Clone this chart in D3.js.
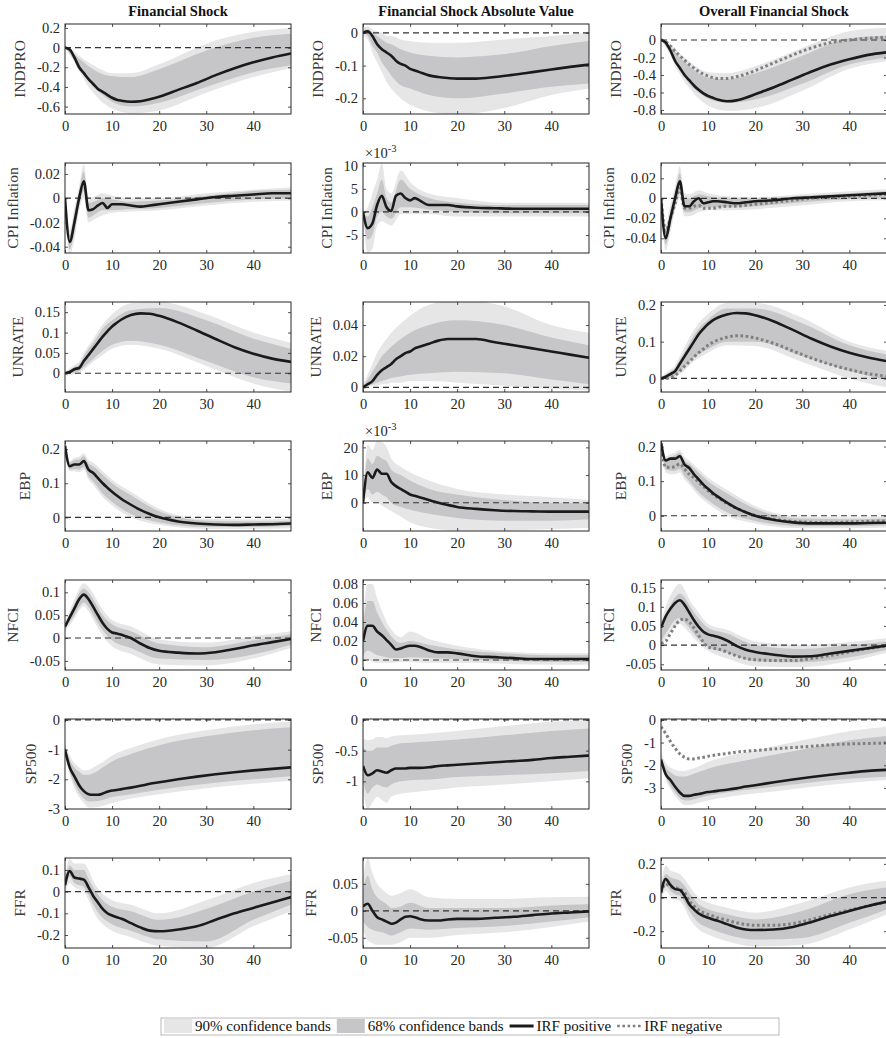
<!DOCTYPE html>
<html>
<head>
<meta charset="utf-8">
<script src="https://cdn.jsdelivr.net/npm/d3@7"></script>
<style>
  body { margin: 0; background: #fff; }
  svg { display: block; font-family: "Liberation Serif", "Times New Roman", serif; }
</style>
</head>
<body>
<svg id="chart" width="886" height="1038"></svg>
<script>
// horizons for the IRF lines and for the confidence bands
const H  = [0,1,2,3,4,5,6,7,8,9,10,11,12,14,16,18,20,24,28,32,36,40,44,48];
const HB = [0,1,2,3,4,5,6,8,10,14,20,30,40,48];

const columns = ["Financial Shock", "Financial Shock Absolute Value", "Overall Financial Shock"];
const variables = ["INDPRO", "CPI Inflation", "UNRATE", "EBP", "NFCI", "SP500", "FFR"];

// ---- INDPRO
const indpro_fin_irf = [0,-0.02,-0.1,-0.2,-0.26,-0.32,-0.37,-0.42,-0.45,-0.48,-0.51,-0.53,-0.54,-0.55,-0.545,-0.525,-0.5,-0.43,-0.36,-0.28,-0.21,-0.15,-0.1,-0.06];
const indpro_fin_lo68 = [0,-0.06,-0.13,-0.2,-0.28,-0.34,-0.4,-0.48,-0.55,-0.6,-0.56,-0.4,-0.25,-0.18];
const indpro_fin_hi68 = [0,-0.02,-0.07,-0.11,-0.15,-0.19,-0.22,-0.27,-0.29,-0.3,-0.22,-0.03,0.1,0.14];
const indpro_fin_lo90 = [0,-0.07,-0.15,-0.24,-0.32,-0.4,-0.46,-0.56,-0.62,-0.67,-0.64,-0.46,-0.3,-0.21];
const indpro_fin_hi90 = [0.01,0,-0.04,-0.08,-0.12,-0.15,-0.18,-0.23,-0.26,-0.26,-0.17,0.04,0.16,0.2];

const indpro_abs_irf = [0,0.005,-0.01,-0.035,-0.05,-0.06,-0.07,-0.085,-0.095,-0.1,-0.11,-0.115,-0.12,-0.13,-0.135,-0.138,-0.14,-0.14,-0.135,-0.128,-0.12,-0.112,-0.104,-0.097];
const indpro_abs_lo68 = [0,-0.01,-0.04,-0.06,-0.09,-0.11,-0.13,-0.16,-0.17,-0.19,-0.2,-0.185,-0.165,-0.155];
const indpro_abs_hi68 = [0.01,0.01,0,-0.01,-0.02,-0.03,-0.035,-0.05,-0.06,-0.07,-0.075,-0.065,-0.04,-0.025];
const indpro_abs_lo90 = [-0.01,-0.02,-0.06,-0.09,-0.12,-0.15,-0.17,-0.2,-0.22,-0.24,-0.25,-0.23,-0.19,-0.17];
const indpro_abs_hi90 = [0.015,0.02,0.01,0.005,0,-0.01,-0.01,-0.02,-0.025,-0.03,-0.03,-0.02,-0.01,0];

const indpro_all_irf = [0,-0.03,-0.12,-0.24,-0.32,-0.4,-0.46,-0.52,-0.57,-0.61,-0.64,-0.66,-0.68,-0.7,-0.69,-0.66,-0.62,-0.54,-0.45,-0.36,-0.28,-0.22,-0.17,-0.14];
const indpro_all_neg = [0,-0.02,-0.07,-0.13,-0.18,-0.23,-0.28,-0.32,-0.36,-0.39,-0.41,-0.43,-0.44,-0.44,-0.42,-0.39,-0.35,-0.26,-0.17,-0.09,-0.03,0,0.02,0.03];
const indpro_all_lo68 = [0,-0.07,-0.15,-0.26,-0.34,-0.42,-0.5,-0.6,-0.67,-0.72,-0.68,-0.5,-0.28,-0.2];
const indpro_all_hi68 = [0,-0.03,-0.08,-0.13,-0.2,-0.25,-0.3,-0.38,-0.43,-0.45,-0.38,-0.18,0.02,0.05];
const indpro_all_lo90 = [0,-0.08,-0.17,-0.3,-0.39,-0.48,-0.55,-0.67,-0.75,-0.81,-0.78,-0.58,-0.33,-0.24];
const indpro_all_hi90 = [0.01,0,-0.05,-0.09,-0.15,-0.2,-0.25,-0.32,-0.37,-0.38,-0.3,-0.09,0.1,0.14];

// ---- CPI Inflation
const cpi_fin_irf = [0,-0.036,-0.02,0,0.014,-0.01,-0.009,-0.006,-0.004,-0.008,-0.005,-0.005,-0.005,-0.006,-0.007,-0.006,-0.005,-0.003,-0.001,0.001,0.002,0.003,0.004,0.004];
const cpi_fin_lo68 = [0,-0.042,-0.028,-0.006,0.006,-0.016,-0.014,-0.01,-0.01,-0.009,-0.008,-0.004,-0.001,0];
const cpi_fin_hi68 = [0,-0.03,-0.012,0.006,0.022,-0.004,-0.003,0,-0.001,-0.003,-0.002,0.002,0.006,0.007];
const cpi_fin_lo90 = [0,-0.046,-0.034,-0.01,0,-0.02,-0.018,-0.014,-0.012,-0.011,-0.01,-0.006,-0.003,-0.002];
const cpi_fin_hi90 = [0,-0.026,-0.008,0.01,0.028,0,0.001,0.004,0.002,0,0,0.004,0.007,0.009];

// absolute value panels with a x10^-3 exponent are kept in units of 1e-3
const cpi_abs_irf = [0,-3.5,-2.5,1.5,3.5,1,0.2,3.5,4,3,2.5,3,2.5,1.5,1.5,1.5,1.2,0.9,0.8,0.7,0.7,0.7,0.7,0.7];
const cpi_abs_lo68 = [0,-6,-5,-1,0,-1,-1.5,1,1,0.5,0,-0.3,-0.3,-0.3];
const cpi_abs_hi68 = [0,-1,1,4,7,3,2,7,5,3,2,1.5,1.5,1.5];
const cpi_abs_lo90 = [0,-8.9,-8,-3,-2,-2.5,-3,-0.5,-0.5,-0.5,-1,-1,-1,-1];
const cpi_abs_hi90 = [0,1,4,7,10.6,5,4,9,6.5,4,3,2,2,2];

const cpi_all_irf = [0,-0.04,-0.02,0,0.017,-0.008,-0.008,-0.003,0,-0.005,-0.004,-0.003,-0.003,-0.004,-0.005,-0.004,-0.003,-0.002,0,0.001,0.002,0.003,0.004,0.005];
const cpi_all_neg = [0,-0.033,-0.02,-0.005,0.01,-0.01,-0.01,-0.008,-0.007,-0.01,-0.01,-0.01,-0.009,-0.008,-0.008,-0.007,-0.006,-0.004,-0.002,0,0.001,0.002,0.003,0.004];
const cpi_all_lo68 = [0,-0.046,-0.028,-0.008,0.006,-0.014,-0.014,-0.01,-0.009,-0.009,-0.008,-0.004,-0.001,0];
const cpi_all_hi68 = [0,-0.032,-0.012,0.006,0.025,0,0,0.004,0.002,0,0,0.002,0.005,0.007];
const cpi_all_lo90 = [0,-0.052,-0.034,-0.012,0,-0.018,-0.018,-0.014,-0.012,-0.012,-0.011,-0.007,-0.003,-0.002];
const cpi_all_hi90 = [0,-0.026,-0.006,0.012,0.032,0.005,0.004,0.008,0.005,0.002,0.001,0.004,0.007,0.009];

// ---- UNRATE
const unrate_fin_irf = [0,0.003,0.01,0.013,0.03,0.045,0.06,0.075,0.09,0.103,0.115,0.124,0.132,0.143,0.147,0.146,0.141,0.125,0.105,0.084,0.064,0.048,0.036,0.028];
const unrate_fin_lo68 = [0,0,0.002,0.005,0.015,0.025,0.035,0.055,0.07,0.08,0.07,0.03,-0.01,-0.025];
const unrate_fin_hi68 = [0.002,0.008,0.015,0.022,0.042,0.06,0.075,0.11,0.13,0.155,0.16,0.13,0.085,0.06];
const unrate_fin_lo90 = [-0.002,-0.004,-0.002,0,0.01,0.018,0.028,0.045,0.06,0.07,0.06,0.018,-0.025,-0.045];
const unrate_fin_hi90 = [0.004,0.012,0.02,0.028,0.05,0.068,0.085,0.12,0.145,0.172,0.175,0.145,0.1,0.075];

const unrate_abs_irf = [0,0.002,0.004,0.008,0.011,0.013,0.015,0.018,0.02,0.022,0.023,0.025,0.026,0.028,0.03,0.031,0.031,0.031,0.029,0.027,0.025,0.023,0.021,0.019];
const unrate_abs_lo68 = [0,0.001,0.002,0.003,0.004,0.005,0.006,0.007,0.008,0.009,0.01,0.009,0.005,0.002];
const unrate_abs_hi68 = [0.001,0.005,0.01,0.015,0.02,0.023,0.026,0.031,0.035,0.04,0.043,0.04,0.032,0.027];
const unrate_abs_lo90 = [-0.001,0,0.001,0.001,0.002,0.002,0.003,0.003,0.004,0.004,0.003,0.001,-0.001,-0.002];
const unrate_abs_hi90 = [0.002,0.008,0.015,0.022,0.027,0.031,0.035,0.041,0.046,0.053,0.056,0.052,0.04,0.035];

const unrate_all_irf = [0,0.005,0.012,0.02,0.04,0.06,0.08,0.1,0.12,0.135,0.148,0.158,0.165,0.174,0.178,0.177,0.172,0.155,0.132,0.108,0.087,0.07,0.057,0.047];
const unrate_all_neg = [0,0,0.003,0.008,0.02,0.033,0.045,0.058,0.07,0.08,0.09,0.098,0.104,0.112,0.116,0.115,0.11,0.095,0.075,0.055,0.038,0.024,0.013,0.006];
const unrate_all_lo68 = [0,0,0.003,0.008,0.02,0.03,0.045,0.065,0.08,0.1,0.1,0.06,0.02,-0.005];
const unrate_all_hi68 = [0.002,0.01,0.018,0.028,0.05,0.072,0.095,0.135,0.16,0.19,0.19,0.15,0.09,0.065];
const unrate_all_lo90 = [-0.002,-0.004,-0.002,0.002,0.012,0.02,0.035,0.055,0.07,0.09,0.088,0.045,0,-0.025];
const unrate_all_hi90 = [0.004,0.014,0.024,0.035,0.06,0.085,0.11,0.15,0.175,0.205,0.205,0.165,0.1,0.075];

// ---- EBP
const ebp_fin_irf = [0.21,0.15,0.155,0.155,0.165,0.14,0.13,0.115,0.1,0.087,0.075,0.064,0.054,0.037,0.022,0.01,0,-0.012,-0.018,-0.021,-0.022,-0.021,-0.02,-0.018];
const ebp_fin_lo68 = [0.21,0.14,0.142,0.14,0.148,0.12,0.105,0.07,0.045,0.01,-0.015,-0.028,-0.028,-0.025];
const ebp_fin_hi68 = [0.215,0.16,0.168,0.17,0.18,0.158,0.15,0.125,0.1,0.065,0.018,-0.01,-0.012,-0.01];
const ebp_fin_lo90 = [0.205,0.135,0.135,0.132,0.14,0.11,0.095,0.06,0.035,0,-0.022,-0.034,-0.034,-0.032];
const ebp_fin_hi90 = [0.22,0.165,0.175,0.178,0.188,0.168,0.16,0.135,0.11,0.075,0.025,-0.005,-0.006,-0.004];

const ebp_abs_irf = [0,11,9,12,10.5,10.5,7.5,6,5,4,3,2.5,2,1,0,-0.8,-1.5,-2.2,-2.7,-3,-3.1,-3.2,-3.2,-3.2];
const ebp_abs_lo68 = [0,5,3,4,3,2,0,-1.5,-2.5,-4,-5.5,-6.5,-6.5,-6];
const ebp_abs_hi68 = [0,16,14,17,16,15,12,10,8,5,3,1,0,0];
const ebp_abs_lo90 = [0,2,0,0,-1,-2,-3,-5,-7,-9,-10,-10,-9.5,-9];
const ebp_abs_hi90 = [0,21,19,22.3,22,20,16,13,11,8,5,3,2,1];

const ebp_all_irf = [0.21,0.16,0.165,0.165,0.172,0.148,0.138,0.12,0.105,0.09,0.078,0.066,0.056,0.038,0.022,0.01,0,-0.012,-0.019,-0.022,-0.022,-0.022,-0.021,-0.02];
const ebp_all_neg = [0.21,0.14,0.14,0.142,0.15,0.135,0.12,0.11,0.097,0.085,0.072,0.062,0.053,0.036,0.022,0.01,0.001,-0.01,-0.016,-0.019,-0.02,-0.018,-0.016,-0.015];
const ebp_all_lo68 = [0.205,0.135,0.13,0.13,0.135,0.115,0.1,0.068,0.045,0.01,-0.015,-0.03,-0.03,-0.028];
const ebp_all_hi68 = [0.215,0.165,0.17,0.175,0.182,0.16,0.15,0.125,0.1,0.065,0.02,-0.008,-0.01,-0.008];
const ebp_all_lo90 = [0.2,0.125,0.12,0.12,0.125,0.105,0.09,0.058,0.035,0,-0.022,-0.036,-0.036,-0.034];
const ebp_all_hi90 = [0.22,0.172,0.178,0.183,0.19,0.17,0.16,0.135,0.11,0.075,0.028,-0.003,-0.004,-0.002];

// ---- NFCI
const nfci_fin_irf = [0.025,0.045,0.065,0.085,0.095,0.085,0.068,0.05,0.033,0.02,0.012,0.01,0.007,0,-0.012,-0.022,-0.028,-0.032,-0.034,-0.031,-0.024,-0.016,-0.009,-0.002];
const nfci_fin_lo68 = [0.02,0.035,0.05,0.068,0.078,0.068,0.05,0.017,-0.005,-0.022,-0.045,-0.048,-0.036,-0.015];
const nfci_fin_hi68 = [0.03,0.052,0.075,0.098,0.108,0.1,0.085,0.05,0.03,0.015,-0.012,-0.02,-0.005,0.008];
const nfci_fin_lo90 = [0.015,0.028,0.042,0.06,0.07,0.058,0.04,0.005,-0.018,-0.035,-0.058,-0.06,-0.045,-0.022];
const nfci_fin_hi90 = [0.035,0.06,0.085,0.108,0.12,0.112,0.097,0.062,0.04,0.025,-0.003,-0.01,0.004,0.015];

const nfci_abs_irf = [0.02,0.036,0.036,0.03,0.026,0.021,0.016,0.011,0.012,0.014,0.015,0.015,0.014,0.01,0.008,0.008,0.007,0.004,0.003,0.002,0.001,0.001,0.001,0.001];
const nfci_abs_lo68 = [0.005,0.01,0.008,0.005,0.004,0.003,0.002,0.002,0.003,0.002,0.001,-0.001,-0.002,-0.002];
const nfci_abs_hi68 = [0.035,0.062,0.062,0.05,0.04,0.032,0.025,0.018,0.02,0.016,0.011,0.007,0.005,0.005];
const nfci_abs_lo90 = [0,0,-0.002,-0.003,-0.003,-0.003,-0.003,-0.002,-0.002,-0.003,-0.003,-0.004,-0.005,-0.005];
const nfci_abs_hi90 = [0.045,0.08,0.08,0.065,0.052,0.04,0.032,0.024,0.03,0.022,0.015,0.009,0.007,0.007];

const nfci_all_irf = [0.045,0.075,0.095,0.11,0.117,0.105,0.085,0.065,0.048,0.035,0.028,0.025,0.022,0.012,-0.002,-0.012,-0.018,-0.025,-0.03,-0.029,-0.022,-0.015,-0.008,-0.001];
const nfci_all_neg = [0.005,0.01,0.03,0.05,0.065,0.068,0.06,0.045,0.025,0.008,-0.005,-0.008,-0.01,-0.018,-0.028,-0.035,-0.038,-0.04,-0.04,-0.035,-0.027,-0.018,-0.009,-0.002];
const nfci_all_lo68 = [0.01,0.03,0.05,0.065,0.07,0.06,0.045,0.015,-0.005,-0.02,-0.042,-0.045,-0.032,-0.012];
const nfci_all_hi68 = [0.045,0.08,0.105,0.125,0.135,0.125,0.105,0.07,0.045,0.03,0,-0.01,0,0.01];
const nfci_all_lo90 = [0,0.018,0.035,0.05,0.055,0.045,0.032,0.005,-0.015,-0.035,-0.055,-0.057,-0.042,-0.02];
const nfci_all_hi90 = [0.06,0.1,0.13,0.15,0.16,0.145,0.12,0.085,0.055,0.04,0.01,0,0.008,0.018];

// ---- SP500
const sp_fin_irf = [-1,-1.6,-1.9,-2.2,-2.4,-2.5,-2.52,-2.52,-2.48,-2.42,-2.38,-2.36,-2.33,-2.28,-2.22,-2.15,-2.1,-2,-1.91,-1.83,-1.76,-1.7,-1.65,-1.6];
const sp_fin_lo68 = [-1.1,-1.75,-2.15,-2.45,-2.65,-2.75,-2.75,-2.7,-2.6,-2.5,-2.35,-2.15,-2,-1.9];
const sp_fin_hi68 = [-0.9,-1.35,-1.6,-1.75,-1.85,-1.85,-1.8,-1.6,-1.4,-1.15,-0.85,-0.55,-0.35,-0.25];
const sp_fin_lo90 = [-1.15,-1.85,-2.3,-2.6,-2.8,-2.95,-2.95,-2.9,-2.8,-2.65,-2.5,-2.3,-2.15,-2.05];
const sp_fin_hi90 = [-0.8,-1.2,-1.45,-1.6,-1.7,-1.68,-1.6,-1.42,-1.2,-0.95,-0.65,-0.35,-0.15,-0.05];

const sp_abs_irf = [-0.75,-0.9,-0.87,-0.82,-0.84,-0.86,-0.82,-0.79,-0.79,-0.79,-0.78,-0.78,-0.78,-0.77,-0.75,-0.74,-0.73,-0.71,-0.69,-0.67,-0.65,-0.62,-0.6,-0.58];
const sp_abs_lo68 = [-1,-1.2,-1.1,-1.05,-1.08,-1.1,-1.05,-1,-0.98,-0.97,-0.93,-0.9,-0.87,-0.83];
const sp_abs_hi68 = [-0.45,-0.5,-0.5,-0.45,-0.45,-0.45,-0.42,-0.38,-0.37,-0.35,-0.32,-0.25,-0.18,-0.14];
const sp_abs_lo90 = [-1.15,-1.45,-1.35,-1.25,-1.3,-1.35,-1.25,-1.2,-1.18,-1.15,-1.1,-1.05,-1,-0.95];
const sp_abs_hi90 = [-0.3,-0.33,-0.32,-0.28,-0.28,-0.3,-0.27,-0.25,-0.24,-0.22,-0.18,-0.1,-0.03,0];

const sp_all_irf = [-1.75,-2.4,-2.65,-2.95,-3.2,-3.35,-3.35,-3.3,-3.27,-3.22,-3.18,-3.16,-3.13,-3.08,-3.02,-2.94,-2.88,-2.75,-2.63,-2.52,-2.42,-2.33,-2.25,-2.2];
const sp_all_neg = [-0.3,-0.6,-0.95,-1.25,-1.5,-1.65,-1.72,-1.72,-1.68,-1.65,-1.6,-1.57,-1.53,-1.48,-1.42,-1.38,-1.35,-1.28,-1.22,-1.16,-1.1,-1.06,-1.04,-1.02];
const sp_all_lo68 = [-1.85,-2.5,-2.9,-3.2,-3.45,-3.55,-3.55,-3.45,-3.35,-3.2,-3.05,-2.8,-2.6,-2.5];
const sp_all_hi68 = [-1.6,-2.1,-2.3,-2.45,-2.5,-2.5,-2.45,-2.3,-2.15,-1.95,-1.7,-1.3,-0.9,-0.7];
const sp_all_lo90 = [-1.95,-2.65,-3.05,-3.35,-3.6,-3.75,-3.75,-3.65,-3.55,-3.4,-3.25,-3,-2.78,-2.65];
const sp_all_hi90 = [-1.4,-1.9,-2.1,-2.2,-2.25,-2.25,-2.2,-2.05,-1.85,-1.6,-1.35,-0.9,-0.5,-0.3];

// ---- FFR
const ffr_fin_irf = [0.03,0.095,0.065,0.06,0.055,0.02,-0.02,-0.05,-0.08,-0.1,-0.11,-0.118,-0.125,-0.145,-0.165,-0.18,-0.183,-0.175,-0.16,-0.13,-0.1,-0.075,-0.05,-0.025];
const ffr_fin_lo68 = [0.01,0.07,0.04,0.03,0.02,-0.015,-0.06,-0.12,-0.15,-0.18,-0.22,-0.23,-0.13,-0.06];
const ffr_fin_hi68 = [0.05,0.12,0.1,0.1,0.1,0.06,0.02,-0.04,-0.07,-0.09,-0.13,-0.08,0,0.05];
const ffr_fin_lo90 = [-0.01,0.04,0.02,0.01,0,-0.04,-0.09,-0.15,-0.18,-0.21,-0.25,-0.26,-0.16,-0.09];
const ffr_fin_hi90 = [0.07,0.15,0.13,0.13,0.13,0.1,0.05,-0.01,-0.04,-0.06,-0.1,-0.04,0.04,0.08];

const ffr_abs_irf = [0.008,0.013,0,-0.012,-0.016,-0.02,-0.024,-0.022,-0.016,-0.011,-0.01,-0.012,-0.015,-0.018,-0.018,-0.016,-0.015,-0.015,-0.013,-0.011,-0.008,-0.005,-0.003,-0.001];
const ffr_abs_lo68 = [-0.02,-0.03,-0.035,-0.038,-0.04,-0.043,-0.046,-0.04,-0.033,-0.035,-0.032,-0.028,-0.02,-0.012];
const ffr_abs_hi68 = [0.04,0.065,0.04,0.025,0.018,0.012,0.005,0.008,0.015,0.005,0.005,0.005,0.01,0.012];
const ffr_abs_lo90 = [-0.035,-0.055,-0.06,-0.063,-0.063,-0.063,-0.063,-0.058,-0.05,-0.05,-0.045,-0.04,-0.03,-0.02];
const ffr_abs_hi90 = [0.06,0.098,0.07,0.05,0.04,0.033,0.028,0.033,0.04,0.025,0.022,0.022,0.025,0.026];

const ffr_all_irf = [0.03,0.11,0.075,0.05,0.045,0.01,-0.04,-0.07,-0.095,-0.11,-0.12,-0.13,-0.138,-0.158,-0.178,-0.19,-0.193,-0.19,-0.175,-0.145,-0.11,-0.08,-0.05,-0.025];
const ffr_all_neg = [0.03,0.08,0.065,0.06,0.05,0.03,-0.02,-0.05,-0.075,-0.09,-0.1,-0.11,-0.12,-0.135,-0.15,-0.16,-0.165,-0.165,-0.155,-0.13,-0.1,-0.075,-0.05,-0.025];
const ffr_all_lo68 = [0,0.07,0.04,0.02,0.01,-0.03,-0.08,-0.15,-0.18,-0.22,-0.25,-0.24,-0.15,-0.07];
const ffr_all_hi68 = [0.06,0.14,0.12,0.11,0.1,0.07,0.03,-0.04,-0.07,-0.1,-0.13,-0.08,0.02,0.06];
const ffr_all_lo90 = [-0.02,0.04,0.01,-0.01,-0.02,-0.06,-0.12,-0.19,-0.22,-0.26,-0.29,-0.28,-0.19,-0.1];
const ffr_all_hi90 = [0.08,0.19,0.16,0.15,0.14,0.11,0.07,0,-0.03,-0.06,-0.09,-0.03,0.06,0.1];

// y-axis ranges and ticks, [row][col]
const yDomains = [
  [[-0.675, 0.24], [-0.248, 0.027], [-0.846, 0.183]],
  [[-0.0452, 0.029], [-8.9, 10.6], [-0.0547, 0.0353]],
  [[-0.046, 0.175], [-0.003, 0.0548], [-0.037, 0.208]],
  [[-0.04, 0.224], [-10.2, 22.3], [-0.044, 0.216]],
  [[-0.07, 0.127], [-0.0105, 0.0842], [-0.065, 0.17]],
  [[-3, 0.03], [-1.45, 0.015], [-3.93, 0.04]],
  [[-0.26, 0.155], [-0.069, 0.098], [-0.3, 0.235]]
];
const yTicks = [
  [[-0.6,-0.4,-0.2,0,0.2], [-0.2,-0.1,0], [-0.8,-0.6,-0.4,-0.2,0]],
  [[-0.04,-0.02,0,0.02], [-5,0,5,10], [-0.04,-0.02,0,0.02]],
  [[0,0.05,0.1,0.15], [0,0.02,0.04], [0,0.1,0.2]],
  [[0,0.1,0.2], [0,10,20], [0,0.1,0.2]],
  [[-0.05,0,0.05,0.1], [0,0.02,0.04,0.06,0.08], [-0.05,0,0.05,0.1,0.15]],
  [[-3,-2,-1,0], [-1,-0.5,0], [-3,-2,-1,0]],
  [[-0.2,-0.1,0,0.1], [-0.05,0,0.05], [-0.2,0,0.2]]
];
const xTicks = [0, 10, 20, 30, 40];
const exponentPanels = [[1, 1], [3, 1]];

const legendItems = ["90% confidence bands", "68% confidence bands", "IRF positive", "IRF negative"];

// build panel table
const P = (irf, lo68, hi68, lo90, hi90, neg) => ({irf, lo68, hi68, lo90, hi90, neg});
const panels = [
  [P(indpro_fin_irf, indpro_fin_lo68, indpro_fin_hi68, indpro_fin_lo90, indpro_fin_hi90),
   P(indpro_abs_irf, indpro_abs_lo68, indpro_abs_hi68, indpro_abs_lo90, indpro_abs_hi90),
   P(indpro_all_irf, indpro_all_lo68, indpro_all_hi68, indpro_all_lo90, indpro_all_hi90, indpro_all_neg)],
  [P(cpi_fin_irf, cpi_fin_lo68, cpi_fin_hi68, cpi_fin_lo90, cpi_fin_hi90),
   P(cpi_abs_irf, cpi_abs_lo68, cpi_abs_hi68, cpi_abs_lo90, cpi_abs_hi90),
   P(cpi_all_irf, cpi_all_lo68, cpi_all_hi68, cpi_all_lo90, cpi_all_hi90, cpi_all_neg)],
  [P(unrate_fin_irf, unrate_fin_lo68, unrate_fin_hi68, unrate_fin_lo90, unrate_fin_hi90),
   P(unrate_abs_irf, unrate_abs_lo68, unrate_abs_hi68, unrate_abs_lo90, unrate_abs_hi90),
   P(unrate_all_irf, unrate_all_lo68, unrate_all_hi68, unrate_all_lo90, unrate_all_hi90, unrate_all_neg)],
  [P(ebp_fin_irf, ebp_fin_lo68, ebp_fin_hi68, ebp_fin_lo90, ebp_fin_hi90),
   P(ebp_abs_irf, ebp_abs_lo68, ebp_abs_hi68, ebp_abs_lo90, ebp_abs_hi90),
   P(ebp_all_irf, ebp_all_lo68, ebp_all_hi68, ebp_all_lo90, ebp_all_hi90, ebp_all_neg)],
  [P(nfci_fin_irf, nfci_fin_lo68, nfci_fin_hi68, nfci_fin_lo90, nfci_fin_hi90),
   P(nfci_abs_irf, nfci_abs_lo68, nfci_abs_hi68, nfci_abs_lo90, nfci_abs_hi90),
   P(nfci_all_irf, nfci_all_lo68, nfci_all_hi68, nfci_all_lo90, nfci_all_hi90, nfci_all_neg)],
  [P(sp_fin_irf, sp_fin_lo68, sp_fin_hi68, sp_fin_lo90, sp_fin_hi90),
   P(sp_abs_irf, sp_abs_lo68, sp_abs_hi68, sp_abs_lo90, sp_abs_hi90),
   P(sp_all_irf, sp_all_lo68, sp_all_hi68, sp_all_lo90, sp_all_hi90, sp_all_neg)],
  [P(ffr_fin_irf, ffr_fin_lo68, ffr_fin_hi68, ffr_fin_lo90, ffr_fin_hi90),
   P(ffr_abs_irf, ffr_abs_lo68, ffr_abs_hi68, ffr_abs_lo90, ffr_abs_hi90),
   P(ffr_all_irf, ffr_all_lo68, ffr_all_hi68, ffr_all_lo90, ffr_all_hi90, ffr_all_neg)]
];

// layout
const colLeft = [65, 363, 661];
const panelW = 226, panelH = 90;
const rowTop = 24, rowStep = 139;
const c90 = "#e6e6e7", c68 = "#c6c6c8", cLine = "#1a1a1a", cNeg = "#7f7f7f";
const axisColor = "#262626";

const svg = d3.select("#chart");
const defs = svg.append("defs");

const fmt = v => {
  const s = String(+v.toFixed(4));
  return s.replace("-", "-");
};

columns.forEach((t, c) => {
  svg.append("text")
    .attr("x", colLeft[c] + panelW / 2).attr("y", 16)
    .attr("text-anchor", "middle")
    .attr("font-weight", "bold").attr("font-size", 14.5)
    .attr("fill", "#111")
    .text(t);
});

panels.forEach((row, r) => {
  row.forEach((p, c) => {
    const x0 = colLeft[c], y0 = rowTop + r * rowStep;
    const x = d3.scaleLinear().domain([0, 48]).range([x0, x0 + panelW]);
    const y = d3.scaleLinear().domain(yDomains[r][c]).range([y0 + panelH, y0]);
    const clipId = `clip-${r}-${c}`;
    defs.append("clipPath").attr("id", clipId)
      .append("rect").attr("x", x0).attr("y", y0).attr("width", panelW).attr("height", panelH);

    const g = svg.append("g");
    const plot = g.append("g").attr("clip-path", `url(#${clipId})`);

    const bandData = (lo, hi) => HB.map((h, i) => ({h, lo: lo[i], hi: hi[i]}));
    const area = d3.area().x(d => x(d.h)).y0(d => y(d.lo)).y1(d => y(d.hi)).curve(d3.curveMonotoneX);
    plot.append("path").datum(bandData(p.lo90, p.hi90)).attr("d", area).attr("fill", c90);
    plot.append("path").datum(bandData(p.lo68, p.hi68)).attr("d", area).attr("fill", c68);

    plot.append("line")
      .attr("x1", x(0)).attr("x2", x(48)).attr("y1", y(0)).attr("y2", y(0))
      .attr("stroke", "#333").attr("stroke-width", 1.2).attr("stroke-dasharray", "6,4");

    const line = d3.line().x((d, i) => x(H[i])).y(d => y(d)).curve(d3.curveMonotoneX);
    if (p.neg) {
      plot.append("path").datum(p.neg).attr("d", line)
        .attr("fill", "none").attr("stroke", cNeg).attr("stroke-width", 3)
        .attr("stroke-dasharray", "2.6,2.6");
    }
    plot.append("path").datum(p.irf).attr("d", line)
      .attr("fill", "none").attr("stroke", cLine).attr("stroke-width", 2.6)
      .attr("stroke-linejoin", "round");

    // box + inner ticks (MATLAB style)
    g.append("g").attr("transform", `translate(0,${y0 + panelH})`)
      .call(d3.axisBottom(x).tickValues(xTicks).tickSizeInner(-3).tickSizeOuter(0).tickPadding(7).tickFormat(d3.format("d")));
    g.append("g").attr("transform", `translate(0,${y0})`)
      .call(d3.axisTop(x).tickValues(xTicks).tickSizeInner(-3).tickSizeOuter(0).tickFormat(""));
    const yl = g.append("g").attr("transform", `translate(${x0},0)`)
      .call(d3.axisLeft(y).tickValues(yTicks[r][c]).tickSizeInner(-3).tickSizeOuter(0).tickPadding(5).tickFormat(fmt));
    g.append("g").attr("transform", `translate(${x0 + panelW},0)`)
      .call(d3.axisRight(y).tickValues(yTicks[r][c]).tickSizeInner(-3).tickSizeOuter(0).tickFormat(""));
    g.selectAll(".domain").remove();
    g.selectAll(".tick line").attr("stroke", axisColor).attr("stroke-width", 0.8);
    g.selectAll(".tick text").attr("fill", axisColor).attr("font-size", 14.5)
      .attr("font-family", "Liberation Serif, serif");
    g.append("rect").attr("x", x0).attr("y", y0).attr("width", panelW).attr("height", panelH)
      .attr("fill", "none").attr("stroke", axisColor).attr("stroke-width", 1);

    let maxW = 0;
    yl.selectAll(".tick text").each(function () { maxW = Math.max(maxW, this.getComputedTextLength()); });
    const lx = x0 - 8 - maxW - 9;
    g.append("text")
      .attr("transform", `translate(${lx},${y0 + panelH / 2}) rotate(-90)`)
      .attr("text-anchor", "middle").attr("font-size", 15.5).attr("fill", "#3a3a3a")
      .text(variables[r]);

    if (exponentPanels.some(([er, ec]) => er === r && ec === c)) {
      const t = g.append("text").attr("x", x0 + 2).attr("y", y0 - 5)
        .attr("font-size", 14.5).attr("fill", axisColor);
      t.append("tspan").text("×10");
      t.append("tspan").attr("dy", -6).attr("font-size", 10.5).text("-3");
    }
  });
});

// legend
const lg = svg.append("g");
const ly = 1026;
lg.append("rect").attr("x", 161).attr("y", 1018).attr("width", 618).attr("height", 17)
  .attr("fill", "#fff").attr("stroke", "#a8a8a8").attr("stroke-width", 0.8);
let cx = 164;
legendItems.forEach((label, i) => {
  const sw = i < 2 ? 28 : 24;
  if (i < 2) {
    lg.append("rect").attr("x", cx).attr("y", ly - 7).attr("width", sw).attr("height", 14)
      .attr("fill", i === 0 ? c90 : c68);
  } else {
    lg.append("line").attr("x1", cx).attr("x2", cx + sw).attr("y1", ly).attr("y2", ly)
      .attr("stroke", i === 2 ? cLine : cNeg).attr("stroke-width", i === 2 ? 3 : 2.6)
      .attr("stroke-dasharray", i === 2 ? null : "2.6,2.6");
  }
  const t = lg.append("text").attr("x", cx + sw + 3).attr("y", ly + 5)
    .attr("font-size", 15).attr("fill", "#111").text(label);
  cx += sw + 3 + t.node().getComputedTextLength() + 6;
});
</script>
</body>
</html>
